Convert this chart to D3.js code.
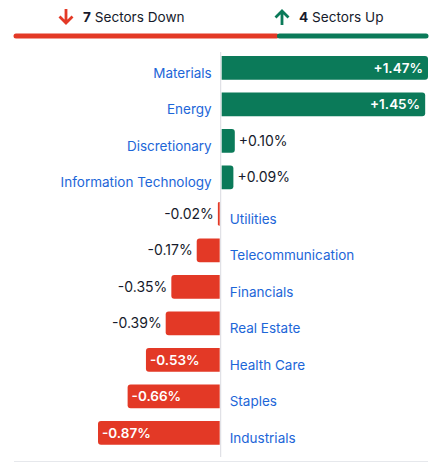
<!DOCTYPE html>
<html>
<head>
<meta charset="utf-8">
<script src="https://cdn.jsdelivr.net/npm/d3@7"></script>
<style>
  body { margin: 0; background: #fff; }
  svg { display: block; font-family: Inter, "Noto Sans", sans-serif; }
</style>
</head>
<body>
<div id="chart"></div>
<script>
const sectors = ['Materials', 'Energy', 'Discretionary', 'Information Technology', 'Utilities',
    'Telecommunication', 'Financials', 'Real Estate', 'Health Care', 'Staples', 'Industrials']
const changes = [1.47, 1.45, 0.10, 0.09, -0.02, -0.17, -0.35, -0.39, -0.53, -0.66, -0.87]
const summary = [
    {count: 7, label: 'Sectors Down', dir: 'down'},
    {count: 4, label: 'Sectors Up', dir: 'up'}
]

const width = 447
const height = 469
const green = '#0b7a59'
const red = '#e33926'
const blue = '#1d66d8'
const ink = '#161a2b'
const left = 14
const right = 428

const svg = d3.select('#chart')
    .append('svg')
    .attr('width', width)
    .attr('height', height)

// header: counts + split bar
const nDown = summary[0].count
const nUp = summary[1].count
const split = d3.scaleLinear()
    .domain([0, nDown + nUp])
    .range([left, right])

const head = svg.append('g')
const heads = [
    {x: 58, color: red, s: summary[0]},
    {x: 274, color: green, s: summary[1]}
]
heads.forEach(h => {
    const g = head.append('g').attr('transform', `translate(${h.x}, 0)`)
    const arrow = h.s.dir === 'down'
        ? 'M8,9 L8,23 M1.5,16.5 L8,23 L14.5,16.5'
        : 'M8,25 L8,11 M1.5,17.5 L8,11 L14.5,17.5'
    g.append('path')
        .attr('d', arrow)
        .attr('fill', 'none')
        .attr('stroke', h.color)
        .attr('stroke-width', 2.8)
    const t = g.append('text')
        .attr('x', 25)
        .attr('y', 22)
        .attr('font-size', 13.6)
        .attr('fill', ink)
    t.append('tspan').attr('font-weight', 700).text(h.s.count)
    t.append('tspan').text(' ' + h.s.label)
})

head.append('line')
    .attr('x1', split(0) + 2).attr('x2', split(nDown) - 1)
    .attr('y1', 36).attr('y2', 36)
    .attr('stroke', red).attr('stroke-width', 5).attr('stroke-linecap', 'round')
head.append('line')
    .attr('x1', split(nDown) + 2).attr('x2', split(nDown + nUp) - 2)
    .attr('y1', 36).attr('y2', 36)
    .attr('stroke', green).attr('stroke-width', 5).attr('stroke-linecap', 'round')

// bars
const x = d3.scaleLinear()
    .domain([d3.min(changes), d3.max(changes)])
    .range([98, right])

const y = d3.scaleBand()
    .domain(sectors)
    .range([50.5, 450.2])
    .paddingInner(0.35)
    .paddingOuter(0.15)

const data = sectors.map((s, i) => ({sector: s, value: changes[i]}))
const x0 = x(0)
const r = 3

function barPath (d) {
    const y0 = y(d.sector)
    const h = y.bandwidth()
    if (d.value >= 0) {
        const x1 = x(d.value)
        const rr = Math.min(r, (x1 - x0) / 2)
        return `M${x0 + 1},${y0} H${x1 - rr} Q${x1},${y0} ${x1},${y0 + rr} V${y0 + h - rr} Q${x1},${y0 + h} ${x1 - rr},${y0 + h} H${x0 + 1} Z`
    }
    const x1 = x(d.value)
    const rr = Math.min(r, (x0 - x1) / 2)
    return `M${x0 - 1},${y0} H${x1 + rr} Q${x1},${y0} ${x1},${y0 + rr} V${y0 + h - rr} Q${x1},${y0 + h} ${x1 + rr},${y0 + h} H${x0 - 1} Z`
}

svg.append('line')
    .attr('x1', x0).attr('x2', x0)
    .attr('y1', 52).attr('y2', 457)
    .attr('stroke', '#d9dbe0').attr('stroke-width', 1)

svg.append('line')
    .attr('x1', left).attr('x2', right)
    .attr('y1', 461.5).attr('y2', 461.5)
    .attr('stroke', '#e6e8ec').attr('stroke-width', 1)

const rows = svg.append('g')
    .selectAll('g')
    .data(data)
    .join('g')

rows.append('path')
    .attr('d', barPath)
    .attr('fill', d => d.value >= 0 ? green : red)

const fmt = v => (v >= 0 ? '+' : '-') + Math.abs(v).toFixed(2) + '%'
const isInside = d => Math.abs(x(d.value) - x0) > 65

rows.append('text')
    .attr('x', d => {
        if (d.value >= 0) return isInside(d) ? x(d.value) - 5 : x(d.value) + 4
        return isInside(d) ? x(d.value) + 4 : x(d.value) - 4
    })
    .attr('text-anchor', d => (d.value >= 0) === isInside(d) ? 'end' : 'start')
    .attr('y', d => y(d.sector) + y.bandwidth() / 2)
    .attr('dy', '0.35em')
    .attr('font-size', d => isInside(d) ? 13.5 : 14)
    .attr('font-weight', d => isInside(d) ? 600 : 400)
    .attr('fill', d => isInside(d) ? '#fff' : ink)
    .text(d => fmt(d.value))

rows.append('text')
    .attr('x', d => d.value >= 0 ? x0 - 9 : x0 + 9)
    .attr('text-anchor', d => d.value >= 0 ? 'end' : 'start')
    .attr('y', d => y(d.sector) + y.bandwidth() / 2 + 5)
    .attr('dy', '0.35em')
    .attr('font-size', 13.5)
    .attr('fill', blue)
    .text(d => d.sector)
</script>
</body>
</html>
